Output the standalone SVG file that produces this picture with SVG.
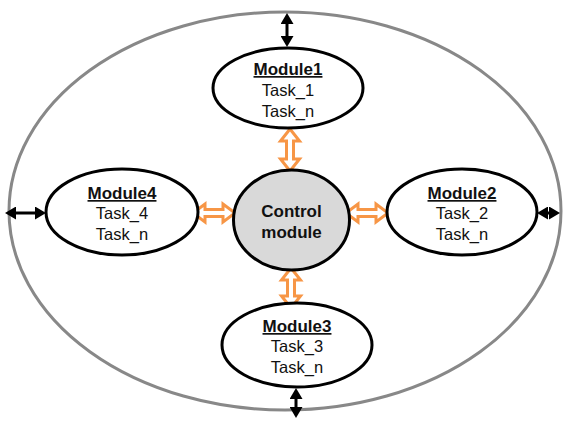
<svg xmlns="http://www.w3.org/2000/svg" width="563" height="422" viewBox="0 0 563 422">
<style>
.mod{fill:#fff;stroke:#000;stroke-width:3}
.ctl{fill:#d9d9d9;stroke:#000;stroke-width:3}
.t{font-family:"Liberation Sans",Arial,sans-serif;font-size:16.5px;fill:#111;text-anchor:middle}
.b{font-family:"Liberation Sans",Arial,sans-serif;font-size:17px;font-weight:bold;fill:#111;text-anchor:middle}
.u{text-decoration:underline}
.oa{fill:#fff;stroke:#f79646;stroke-width:3;stroke-linejoin:miter}
.ba{stroke:#000;stroke-width:3;fill:none;marker-start:url(#ah);marker-end:url(#ah)}
</style>
<defs>
<marker id="ah" markerUnits="userSpaceOnUse" markerWidth="12" markerHeight="13" refX="2" refY="6.5" orient="auto-start-reverse" viewBox="0 0 12 13">
<path d="M0,0 L11,6.5 L0,13 z" fill="#000"/>
</marker>
</defs>
<ellipse cx="285" cy="211" rx="276" ry="199" fill="none" stroke="#888" stroke-width="3"/>
<g id="connectors">
<line class="ba" x1="287" y1="22" x2="287" y2="38"/>
<line class="ba" x1="296" y1="397" x2="296" y2="409"/>
<line class="ba" x1="14" y1="213" x2="37" y2="213"/>
<line class="ba" x1="546" y1="213" x2="551" y2="213"/>
<polygon class="oa" points="290,129 299.5,141 293.5,141 293.5,159 299.5,159 290,171 280.5,159 286.5,159 286.5,141 280.5,141"/>
<polygon class="oa" points="291,268 300.5,280 294.5,280 294.5,296 300.5,296 291,308 281.5,296 287.5,296 287.5,280 281.5,280"/>
<polygon class="oa" points="193,213 205,204 205,209.5 223,209.5 223,204 235,213 223,222 223,216.5 205,216.5 205,222"/>
<polygon class="oa" points="346,213 358,204 358,209.5 376,209.5 376,204 388,213 376,222 376,216.5 358,216.5 358,222"/>
</g>
<g id="module1">
<ellipse class="mod" cx="288" cy="88" rx="75" ry="40"/>
<text class="b u" x="288" y="75">Module1</text>
<text class="t" x="288" y="96">Task_1</text>
<text class="t" x="288" y="117">Task_n</text>
</g>
<g id="module2">
<ellipse class="mod" cx="462" cy="212" rx="75" ry="43"/>
<text class="b u" x="462" y="199">Module2</text>
<text class="t" x="462" y="219">Task_2</text>
<text class="t" x="462" y="240">Task_n</text>
</g>
<g id="module3">
<ellipse class="mod" cx="297" cy="345" rx="75" ry="42"/>
<text class="b u" x="297" y="332">Module3</text>
<text class="t" x="297" y="352">Task_3</text>
<text class="t" x="297" y="373">Task_n</text>
</g>
<g id="module4">
<ellipse class="mod" cx="122" cy="212" rx="76" ry="43"/>
<text class="b u" x="122" y="199">Module4</text>
<text class="t" x="122" y="219">Task_4</text>
<text class="t" x="122" y="240">Task_n</text>
</g>
<g id="control">
<ellipse class="ctl" cx="291.5" cy="220" rx="58" ry="50"/>
<text class="b" x="291.5" y="217">Control</text>
<text class="b" x="291.5" y="238">module</text>
</g>
</svg>
